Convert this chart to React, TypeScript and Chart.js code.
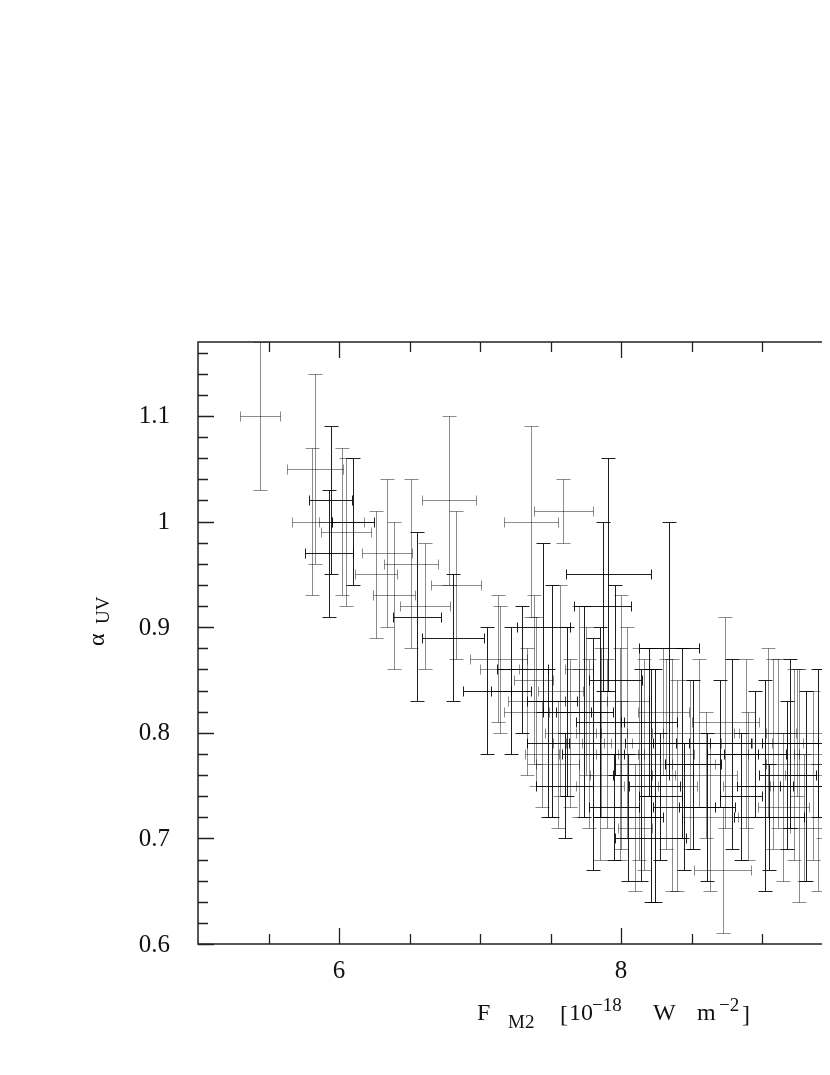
import { useEffect, useRef } from "react";
import { Chart, registerables } from "chart.js";

Chart.register(...registerables);

// F_M2 [1e-18 W m^-2]
const fluxM2 = [
  5.44, 5.83, 5.94, 5.81, 5.93, 6.02, 6.05, 6.10, 6.26, 6.34, 6.39, 6.51, 6.55, 6.61, 6.78, 6.83, 6.81,
  7.05, 7.13, 7.14, 7.22, 7.45, 7.38, 7.40, 7.51, 7.57, 7.64, 7.36, 7.59, 7.70, 7.74, 7.77, 7.80, 7.87,
  7.91, 7.90, 7.96, 7.99, 8.04, 8.14, 8.16, 8.13, 8.21, 8.24, 8.32, 8.34, 8.36, 8.40, 8.43, 8.49, 8.51,
  8.61, 8.74, 8.72, 8.79, 8.89, 9.02, 9.04, 9.08, 9.11, 9.20, 9.23, 9.26, 9.31, 9.36, 9.43, 9.51,
  7.33, 7.62, 7.48, 7.44, 7.55, 7.70, 7.60, 7.85, 7.95, 8.05, 8.10, 8.21, 7.86, 7.85, 8.00, 8.45,
  8.60, 8.63, 8.70, 8.90, 8.95, 9.05, 9.25, 9.40, 9.30, 9.40, 8.55, 8.30, 8.20, 7.75, 8.00, 8.28,
  8.85, 9.15, 9.18, 7.30,
];
const fluxErr = [
  0.14, 0.20, 0.15, 0.14, 0.17, 0.16, 0.18, 0.15, 0.15, 0.18, 0.15, 0.19, 0.17, 0.18, 0.19, 0.18, 0.22,
  0.17, 0.20, 0.14, 0.14, 0.19, 0.14, 0.20, 0.18, 0.16, 0.18, 0.19, 0.21, 0.18, 0.20, 0.16, 0.22, 0.20,
  0.30, 0.18, 0.19, 0.17, 0.18, 0.20, 0.20, 0.15, 0.18, 0.18, 0.20, 0.21, 0.15, 0.14, 0.20, 0.18, 0.20,
  0.20, 0.24, 0.20, 0.18, 0.18, 0.20, 0.20, 0.18, 0.18, 0.20, 0.20, 0.20, 0.18, 0.20, 0.20, 0.20,
  0.16, 0.17, 0.15, 0.12, 0.15, 0.10, 0.20, 0.17, 0.18, 0.25, 0.12, 0.25, 0.18, 0.17, 0.20, 0.22,
  0.22, 0.20, 0.22, 0.18, 0.22, 0.25, 0.22, 0.22, 0.25, 0.20, 0.25, 0.18, 0.20, 0.15, 0.22, 0.15,
  0.15, 0.18, 0.20, 0.18,
];
// alpha_UV
const alphaUV = [
  1.10, 1.05, 1.02, 1.00, 0.97, 1.00, 0.99, 1.00, 0.95, 0.97, 0.93, 0.96, 0.91, 0.92, 1.02, 0.94, 0.89,
  0.84, 0.87, 0.86, 0.84, 0.90, 0.85, 0.83, 0.83, 0.84, 0.80, 1.00, 1.01, 0.79, 0.82, 0.79, 0.78, 0.92,
  0.95, 0.79, 0.85, 0.78, 0.80, 0.76, 0.77, 0.78, 0.79, 0.75, 0.78, 0.88, 0.76, 0.75, 0.79, 0.77, 0.77,
  0.73, 0.81, 0.67, 0.78, 0.79, 0.75, 0.80, 0.78, 0.79, 0.79, 0.77, 0.75, 0.75, 0.76, 0.78, 0.75,
  0.82, 0.82, 0.79, 0.78, 0.77, 0.86, 0.75, 0.75, 0.73, 0.72, 0.71, 0.70, 0.80, 0.81, 0.83, 0.73,
  0.76, 0.72, 0.79, 0.75, 0.78, 0.72, 0.80, 0.79, 0.72, 0.71, 0.80, 0.82, 0.81, 0.83, 0.76, 0.74,
  0.74, 0.73, 0.76, 0.86,
];
const alphaErr = [
  0.07, 0.09, 0.07, 0.07, 0.06, 0.07, 0.07, 0.06, 0.06, 0.07, 0.07, 0.08, 0.08, 0.06, 0.08, 0.07, 0.06,
  0.06, 0.06, 0.06, 0.06, 0.08, 0.08, 0.08, 0.11, 0.10, 0.07, 0.09, 0.03, 0.07, 0.10, 0.08, 0.11, 0.08,
  0.11, 0.08, 0.09, 0.10, 0.10, 0.10, 0.10, 0.10, 0.07, 0.11, 0.09, 0.12, 0.11, 0.10, 0.09, 0.08, 0.08,
  0.07, 0.10, 0.06, 0.09, 0.08, 0.10, 0.08, 0.09, 0.08, 0.08, 0.09, 0.11, 0.09, 0.08, 0.08, 0.10,
  0.06, 0.08, 0.07, 0.05, 0.06, 0.06, 0.05, 0.07, 0.05, 0.06, 0.06, 0.06, 0.08, 0.09, 0.10, 0.06,
  0.06, 0.07, 0.06, 0.07, 0.06, 0.05, 0.06, 0.07, 0.06, 0.06, 0.07, 0.06, 0.07, 0.07, 0.07, 0.06,
  0.06, 0.07, 0.07, 0.06,
];
// 1 = dark stroke, 0 = grey stroke
const shade = [
  0, 0, 1, 0, 1, 0, 0, 1, 0, 0, 0, 0, 1, 0, 0, 0, 1,
  1, 0, 0, 1, 1, 0, 0, 1, 0, 0, 0, 0, 0, 1, 0, 1, 1,
  1, 0, 1, 0, 0, 1, 0, 0, 1, 1, 0, 1, 0, 0, 1, 0, 1,
  1, 0, 0, 1, 0, 1, 0, 0, 0, 1, 0, 0, 1, 0, 0, 0,
  0, 1, 1, 0, 0, 0, 1, 0, 1, 1, 0, 1, 0, 1, 0, 1,
  0, 0, 1, 0, 1, 1, 0, 1, 0, 0, 0, 0, 1, 0, 0, 1,
  1, 0, 1, 1,
];

const xMajorTicks = [6, 8, 10];
const xTickLabels = ["6", "8", "10"];
const xMinorTicks = [5.5, 6.5, 7, 7.5, 8.5, 9, 9.5];
const yMajorTicks = [0.6, 0.7, 0.8, 0.9, 1.0, 1.1];
const yTickLabels = ["0.6", "0.7", "0.8", "0.9", "1", "1.1"];
const yMinorTicks = [
  0.62, 0.64, 0.66, 0.68, 0.72, 0.74, 0.76, 0.78, 0.82, 0.84, 0.86, 0.88,
  0.92, 0.94, 0.96, 0.98, 1.02, 1.04, 1.06, 1.08, 1.12, 1.14, 1.16,
];

const FONT = "'Liberation Serif', 'DejaVu Serif', serif";

const errorBarPlugin = {
  id: "errorBars",
  afterDatasetsDraw(chart: any) {
    const { ctx, chartArea: a } = chart;
    const xs = chart.scales.x;
    const ys = chart.scales.y;
    const r = (v: number) => Math.round(v) + 0.5;
    ctx.save();
    ctx.beginPath();
    ctx.rect(a.left, a.top, a.right - a.left, a.bottom - a.top);
    ctx.clip();
    ctx.lineWidth = 1;
    for (let i = 0; i < fluxM2.length; i++) {
      const px = r(xs.getPixelForValue(fluxM2[i]));
      const py = r(ys.getPixelForValue(alphaUV[i]));
      const x0 = r(xs.getPixelForValue(fluxM2[i] - fluxErr[i]));
      const x1 = r(xs.getPixelForValue(fluxM2[i] + fluxErr[i]));
      const y0 = r(ys.getPixelForValue(alphaUV[i] - alphaErr[i]));
      const y1 = r(ys.getPixelForValue(alphaUV[i] + alphaErr[i]));
      ctx.strokeStyle = shade[i] ? "rgba(0,0,0,0.88)" : "rgba(0,0,0,0.45)";
      ctx.beginPath();
      ctx.moveTo(x0, py);
      ctx.lineTo(x1, py);
      ctx.moveTo(x0, py - 5);
      ctx.lineTo(x0, py + 5);
      ctx.moveTo(x1, py - 5);
      ctx.lineTo(x1, py + 5);
      ctx.moveTo(px, y0);
      ctx.lineTo(px, y1);
      ctx.moveTo(px - 7, y0);
      ctx.lineTo(px + 7, y0);
      ctx.moveTo(px - 7, y1);
      ctx.lineTo(px + 7, y1);
      ctx.stroke();
    }
    ctx.restore();
  },
};

const framePlugin = {
  id: "frame",
  afterDraw(chart: any) {
    const { ctx, chartArea: a } = chart;
    const xs = chart.scales.x;
    const ys = chart.scales.y;
    const major = 16;
    const minor = 10;
    ctx.save();
    ctx.strokeStyle = "#222";
    ctx.lineWidth = 1.5;
    ctx.beginPath();
    ctx.rect(a.left, a.top, a.right - a.left, a.bottom - a.top);
    ctx.stroke();

    ctx.lineWidth = 1.3;
    ctx.beginPath();
    const xt = (v: number, len: number) => {
      const p = Math.round(xs.getPixelForValue(v)) + 0.5;
      ctx.moveTo(p, a.bottom);
      ctx.lineTo(p, a.bottom - len);
      ctx.moveTo(p, a.top);
      ctx.lineTo(p, a.top + len);
    };
    const yt = (v: number, len: number) => {
      const p = Math.round(ys.getPixelForValue(v)) + 0.5;
      ctx.moveTo(a.left, p);
      ctx.lineTo(a.left + len, p);
      ctx.moveTo(a.right, p);
      ctx.lineTo(a.right - len, p);
    };
    xMajorTicks.forEach((v) => xt(v, major));
    xMinorTicks.forEach((v) => xt(v, minor));
    yMajorTicks.forEach((v) => yt(v, major));
    yMinorTicks.forEach((v) => yt(v, minor));
    ctx.stroke();

    ctx.fillStyle = "#111";
    ctx.font = `25px ${FONT}`;
    ctx.textAlign = "right";
    ctx.textBaseline = "middle";
    yMajorTicks.forEach((v, i) => {
      ctx.fillText(yTickLabels[i], a.left - 28, ys.getPixelForValue(v) + 1);
    });
    ctx.textAlign = "center";
    xMajorTicks.forEach((v, i) => {
      ctx.fillText(xTickLabels[i], xs.getPixelForValue(v), a.bottom + 27);
    });

    // x-axis title: F_M2 [10^-18 W m^-2]
    ctx.textAlign = "left";
    ctx.textBaseline = "alphabetic";
    const base = a.bottom + 76;
    const big = `24px ${FONT}`;
    const small = `19px ${FONT}`;
    const put = (t: string, x: number, dy: number, f: string) => {
      ctx.font = f;
      ctx.fillText(t, x - 8, base + dy);
    };
    put("F", 477, 0, big);
    put("M2", 508, 8, small);
    put("[", 560, 2, big);
    put("10", 569, 0, big);
    put("\u221218", 592, -9, small);
    put("W", 653, 0, big);
    put("m", 697, 0, big);
    put("\u22122", 719, -9, small);
    put("]", 742, 2, big);

    // y-axis title: alpha_UV (rotated)
    ctx.save();
    ctx.translate(104 - 8, 646 - 8);
    ctx.rotate(-Math.PI / 2);
    ctx.font = big;
    ctx.fillText("\u03b1", 0, 0);
    ctx.font = small;
    ctx.fillText("UV", 22, 5);
    ctx.restore();

    ctx.restore();
  },
};

export default function App() {
  const ref = useRef<HTMLCanvasElement>(null);
  useEffect(() => {
    if (!ref.current) return;
    const points = fluxM2.map((x, i) => ({ x, y: alphaUV[i] }));
    const chart = new Chart(ref.current, {
      type: "scatter",
      data: {
        datasets: [
          {
            data: points,
            pointRadius: 0,
            pointHoverRadius: 0,
            showLine: false,
          },
        ],
      },
      options: {
        animation: false,
        responsive: false,
        layout: { padding: { left: 190, top: 334, right: 25, bottom: 114 } },
        plugins: { legend: { display: false }, tooltip: { enabled: false } },
        scales: {
          x: { type: "linear", min: 5, max: 10, display: false },
          y: { type: "linear", min: 0.6, max: 1.17, display: false },
        },
      },
      plugins: [errorBarPlugin, framePlugin],
    });
    return () => chart.destroy();
  }, []);
  return (
    <div style={{ width: 822, height: 1050, overflow: "hidden", background: "#fff" }}>
      <canvas ref={ref} width={920} height={1050} style={{ display: "block" }} />
    </div>
  );
}
